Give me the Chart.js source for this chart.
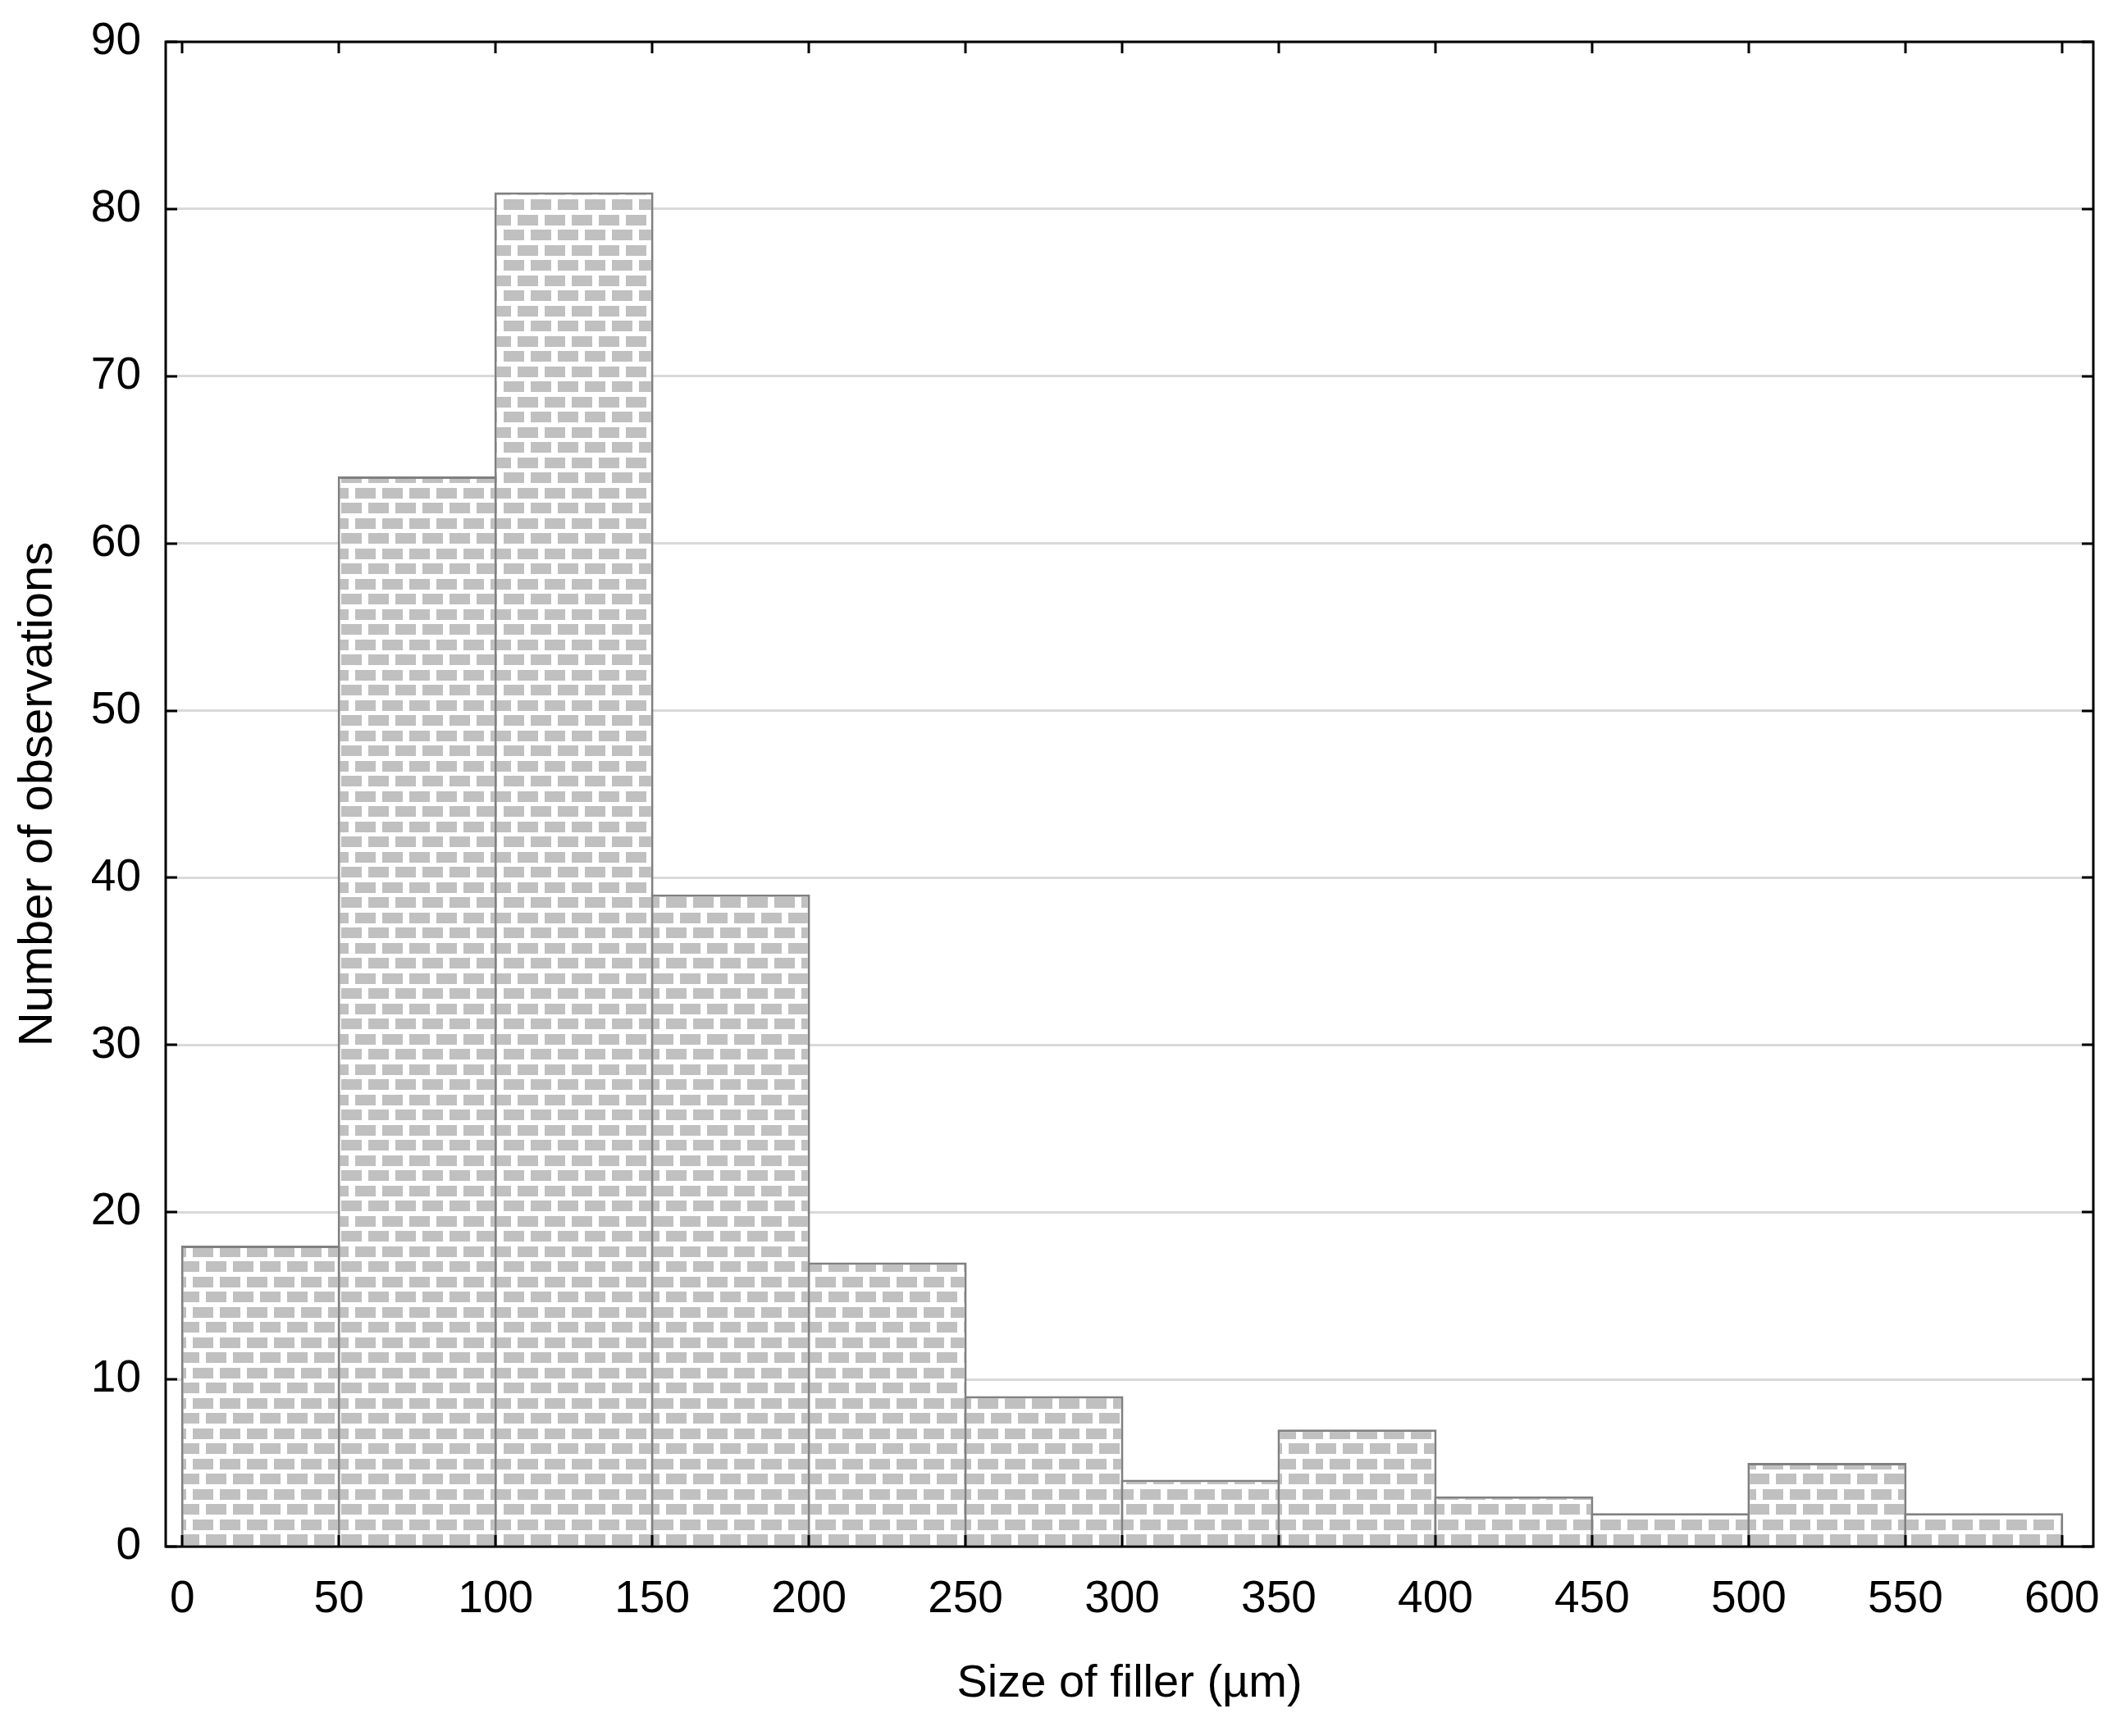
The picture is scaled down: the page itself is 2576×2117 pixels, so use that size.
<!DOCTYPE html>
<html>
<head>
<meta charset="utf-8">
<title>Size of filler histogram</title>
<script src="https://cdn.jsdelivr.net/npm/chart.js@4.4.1/dist/chart.umd.min.js"></script>
<style>
    html, body { margin: 0; padding: 0; background: #fff; }
    canvas { display: block; }
</style>
</head>
<body>
<canvas id="histChart" width="2576" height="2117"></canvas>
<script>
// Histogram data (bins of 50 µm)
const binStarts = [0, 50, 100, 150, 200, 250, 300, 350, 400, 450, 500, 550];
const binWidth = 50;
const counts = [18, 64, 81, 39, 17, 9, 4, 7, 3, 2, 5, 2];

// Axis ticks
const xTicks = [0, 50, 100, 150, 200, 250, 300, 350, 400, 450, 500, 550, 600];
const yTicks = [0, 10, 20, 30, 40, 50, 60, 70, 80, 90];

const xTitle = 'Size of filler (µm)';
const yTitle = 'Number of observations';

// Brick pattern used by the bars
function makeBrickPattern() {
    const tile = document.createElement('canvas');
    tile.width = 33;
    tile.height = 37;
    const c = tile.getContext('2d');
    c.fillStyle = '#ffffff';
    c.fillRect(0, 0, 33, 37);
    c.fillStyle = '#c0c0c0';
    c.fillRect(4, 3, 25, 13);
    c.fillRect(20, 21, 25, 13);
    c.fillRect(-13, 21, 25, 13);
    return document.getElementById('histChart').getContext('2d').createPattern(tile, 'repeat');
}

// Inward tick marks and black frame round the plot area
const frameTicks = {
    id: 'frameTicks',
    afterDatasetsDraw(chart) {
        const { ctx, chartArea: a, scales } = chart;
        const len = 14;
        ctx.save();
        ctx.strokeStyle = '#000';
        ctx.lineWidth = 3;
        ctx.beginPath();
        xTicks.forEach(v => {
            const px = Math.round(scales.x.getPixelForValue(v));
            ctx.moveTo(px, a.bottom); ctx.lineTo(px, a.bottom - len);
            ctx.moveTo(px, a.top); ctx.lineTo(px, a.top + len);
        });
        yTicks.forEach(v => {
            const py = Math.round(scales.y.getPixelForValue(v));
            ctx.moveTo(a.left, py); ctx.lineTo(a.left + len, py);
            ctx.moveTo(a.right, py); ctx.lineTo(a.right - len, py);
        });
        ctx.stroke();
        ctx.strokeRect(a.left, a.top, a.right - a.left, a.bottom - a.top);
        ctx.restore();
    }
};

const tickFont = { family: "'Liberation Sans', Arial, sans-serif", size: 55, lineHeight: 1 };
const xTitleFont = { family: "'Liberation Sans', Arial, sans-serif", size: 56, lineHeight: 1 };
const yTitleFont = { family: "'Liberation Sans', Arial, sans-serif", size: 58, lineHeight: 1 };

const points = binStarts.map((s, i) => ({ x: s + binWidth / 2, y: counts[i] }));

new Chart(document.getElementById('histChart'), {
    type: 'bar',
    data: {
        datasets: [{
            data: points,
            backgroundColor: makeBrickPattern(),
            borderColor: '#808080',
            borderWidth: 3,
            borderSkipped: 'start',
            barPercentage: 1.0157,
            categoryPercentage: 1
        }]
    },
    options: {
        responsive: false,
        animation: false,
        devicePixelRatio: 1,
        layout: { padding: { top: 51, right: 24, bottom: 0, left: 0 } },
        plugins: {
            legend: { display: false },
            tooltip: { enabled: false }
        },
        scales: {
            x: {
                type: 'linear',
                offset: false,
                min: -5.3,
                max: 610,
                afterBuildTicks: scale => { scale.ticks = xTicks.map(v => ({ value: v })); },
                afterFit: scale => {
                    scale.height = 231;
                    scale.paddingLeft = 0;
                    scale.paddingRight = 0;
                },
                grid: { display: false, drawTicks: false, offset: false },
                border: { display: false },
                ticks: {
                    color: '#000',
                    font: tickFont,
                    padding: 37,
                    maxRotation: 0,
                    autoSkip: false
                },
                title: {
                    display: true,
                    text: xTitle,
                    color: '#000',
                    font: xTitleFont,
                    padding: { top: 0, bottom: 35 }
                }
            },
            y: {
                min: 0,
                max: 90,
                afterBuildTicks: scale => { scale.ticks = yTicks.map(v => ({ value: v })); },
                afterFit: scale => {
                    scale.width = 202;
                    scale.paddingTop = 0;
                    scale.paddingBottom = 0;
                },
                grid: { color: '#d9d9d9', lineWidth: 3, drawTicks: false },
                border: { display: false },
                ticks: {
                    color: '#000',
                    font: tickFont,
                    padding: 30
                },
                title: {
                    display: true,
                    text: yTitle,
                    color: '#000',
                    font: yTitleFont,
                    padding: { top: 18, bottom: 0 }
                }
            }
        }
    },
    plugins: [frameTicks]
});
</script>
</body>
</html>
